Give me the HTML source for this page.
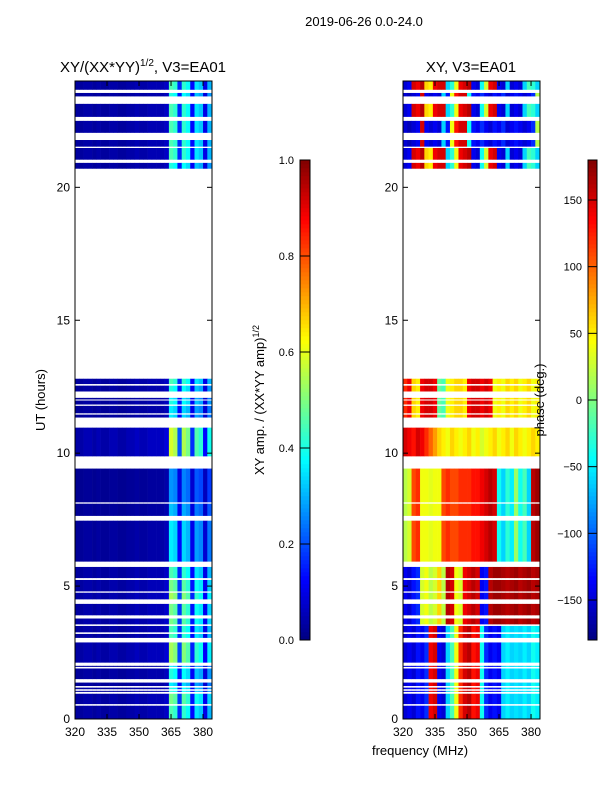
<!DOCTYPE html>
<html><head><meta charset="utf-8"><style>
body{margin:0;background:#fff;}
svg{display:block;font-family:"Liberation Sans",sans-serif;}
</style></head><body>
<svg id="fig" width="600" height="800" xmlns="http://www.w3.org/2000/svg">
<text x="364" y="26" font-size="13" text-anchor="middle">2019-06-26 0.0-24.0</text>
<text x="143" y="72" font-size="15" text-anchor="middle">XY/(XX*YY)<tspan font-size="10" dy="-6">1/2</tspan><tspan dy="6">, V3=EA01</tspan></text>
<text x="471" y="72" font-size="15" text-anchor="middle">XY, V3=EA01</text>
<text x="45" y="400" font-size="13" text-anchor="middle" transform="rotate(-90 45 400)">UT (hours)</text>
<text x="420" y="755" font-size="13" text-anchor="middle">frequency (MHz)</text>
<text x="264" y="400" font-size="13" text-anchor="middle" transform="rotate(-90 264 400)">XY amp. / (XX*YY amp)<tspan font-size="9" dy="-5">1/2</tspan></text>
<g id="left"></g>
<g id="right"></g>
<g id="cb1"></g>
<g id="cb2"></g>
<text x="544" y="400" font-size="13" text-anchor="middle" transform="rotate(-90 544 400)">phase (deg.)</text>
</svg>
<script>
const blocks=[[0,0.5],[0.56,0.95],[1.02,1.06],[1.12,1.18],[1.24,1.37],[1.5,1.9],[1.96,2.0],[2.12,2.88],[3.05,3.2],[3.26,3.5],[3.56,3.78],[3.9,4.33],[4.5,4.75],[4.8,5.23],[5.3,5.72],[5.92,7.46],[7.64,8.1],[8.15,9.42],[9.88,10.96],[11.34,11.45],[11.5,11.78],[11.83,11.98],[12.02,12.08],[12.32,12.54],[12.6,12.8],[20.7,20.92],[21.04,21.48],[21.53,21.78],[22.05,22.5],[22.65,23.14],[23.42,23.55],[23.67,24]];
const blockGain=[1.0,1.1,0.9,0.9,0.8,0.9,0.8,1.2,1.0,1.0,1.1,1.1,1.2,1.1,1.0,0.8,0.7,0.6,1.3,0.8,0.8,0.9,0.8,0.9,1.0,0.9,1.0,1.0,1.0,1.0,0.9,1.0];
const blockPhase=[0,0,0,0,0,0,0,0,0,0,1,1,1,1,1,2,2,2,3,4,4,4,4,4,4,5,5,6,6,5,6,5];
const freqs=[320,322,324,326,328,330,332,334,336,338,340,342,344,346,348,350,352,354,356,358,360,362,364,366,368,370,372,374,376,378,380,382];
const ampProfile=[0.03,0.03,0.04,0.04,0.03,0.04,0.03,0.03,0.04,0.04,0.03,0.03,0.04,0.04,0.05,0.04,0.04,0.05,0.05,0.05,0.05,0.07,0.45,0.42,0.16,0.42,0.38,0.13,0.35,0.32,0.1,0.3];
const phaseProfiles=[
[-150,-140,-150,-130,-140,-120,140,150,-140,-150,-60,-20,40,120,150,160,130,140,-40,-120,-140,-130,-140,-60,-50,-60,-55,-60,-50,-60,-40,-50],
[-140,-150,-130,-120,30,40,20,30,60,20,160,150,40,30,140,150,160,150,-140,-130,160,170,170,165,160,165,170,160,165,170,160,165],
[20,30,110,120,40,40,35,40,40,110,120,110,110,120,120,120,130,130,140,150,160,150,-40,-60,-30,-50,10,-40,-20,-60,160,170],
[150,140,130,150,140,120,100,80,60,50,40,60,50,40,50,60,40,50,30,40,50,60,40,50,60,40,60,50,40,50,60,50],
[120,140,60,50,140,150,150,140,-10,-20,40,50,60,60,50,140,150,150,140,150,140,40,50,40,60,50,60,40,50,60,40,50],
[-150,-140,150,140,160,60,50,140,150,150,-60,-30,40,140,150,160,-140,-150,-40,30,140,150,-140,-150,-60,-150,-140,-150,-60,-20,-30,-60],
[-150,-160,-150,-140,150,-140,-150,-140,-150,-60,-130,40,130,150,150,-40,-130,-140,-120,-140,-150,-130,-140,-120,-150,-140,-130,-140,-150,-140,-120,20]];
const ampTicks=[0,0.2,0.4,0.6,0.8,1.0];
const phaseTicks=[-150,-100,-50,0,50,100,150];
const hourTicks=[0,5,10,15,20];
const freqTicks=[320,335,350,365,380];

const NS="http://www.w3.org/2000/svg";
function jet(v){v=Math.max(0,Math.min(1,v));
 const r=Math.max(0,Math.min(1,Math.min(4*v-1.5,-4*v+4.5)));
 const g=Math.max(0,Math.min(1,Math.min(4*v-0.5,-4*v+3.5)));
 const b=Math.max(0,Math.min(1,Math.min(4*v+0.5,-4*v+2.5)));
 return `rgb(${Math.round(r*255)},${Math.round(g*255)},${Math.round(b*255)})`;}
function mk(tag,attrs,parent){const e=document.createElementNS(NS,tag);for(const k in attrs)e.setAttribute(k,attrs[k]);parent.appendChild(e);return e;}
const Y0=719,Y1=81;
function yH(h){return Y0-(Y0-Y1)*h/24;}
function panel(g,x0,x1,valueFn,name){
 const fx=f=>x0+(f-320)*(x1-x0)/64.2;
 blocks.forEach((b,i)=>{freqs.forEach((f,c)=>{
  const r=mk('rect',{x:fx(f),y:yH(b[1]),width:fx(f+2)-fx(f)+0.3,height:yH(b[0])-yH(b[1]),fill:jet(valueFn(i,c))},g);
  
  
 });});
 mk('rect',{x:x0,y:Y1,width:x1-x0,height:Y0-Y1,fill:'none',stroke:'#000','stroke-width':1},g);
 hourTicks.forEach(h=>{const y=yH(h);
  mk('line',{x1:x0,x2:x0+5,y1:y,y2:y,stroke:'#000'},g);mk('line',{x1:x1-5,x2:x1,y1:y,y2:y,stroke:'#000'},g);
  const t=mk('text',{x:x0-5,y:y+4,'font-size':12,'text-anchor':'end'},g);t.textContent=h;
  
  });
 freqTicks.forEach(f=>{const x=fx(f);
  mk('line',{x1:x,x2:x,y1:Y0,y2:Y0-5,stroke:'#000'},g);mk('line',{x1:x,x2:x,y1:Y1,y2:Y1+5,stroke:'#000'},g);
  const t=mk('text',{x:x,y:Y0+17,'font-size':12,'text-anchor':'middle'},g);t.textContent=f;
  
  });
}
panel(document.getElementById('left'),75,212,(i,c)=>ampProfile[c]*blockGain[i],'amp');
panel(document.getElementById('right'),403,540,(i,c)=>(phaseProfiles[blockPhase[i]][c]+180)/360,'phase');
function cbar(g,x,w,ticks,vmin,vmax,fmt){
 const yt=160,yb=640;
 for(let k=0;k<120;k++){mk('rect',{x:x,y:yb-(k+1)*4,width:w,height:4.3,fill:jet((k+0.5)/120)},g);}
 mk('rect',{x:x,y:yt,width:w,height:yb-yt,fill:'none',stroke:'#000'},g);
 ticks.forEach(v=>{const y=yb-(v-vmin)/(vmax-vmin)*(yb-yt);
  mk('line',{x1:x,x2:x+w,y1:y,y2:y,stroke:'#000'},g);
  const t=mk('text',{x:x-6,y:y+4,'font-size':11,'text-anchor':'end'},g);t.textContent=fmt(v);
  
  });
}
cbar(document.getElementById('cb1'),300,10,ampTicks,0,1,v=>v.toFixed(1));
cbar(document.getElementById('cb2'),588,9,phaseTicks,-180,180,v=>v<0?'\u2212'+(-v):String(v));
</script>
</body></html>
